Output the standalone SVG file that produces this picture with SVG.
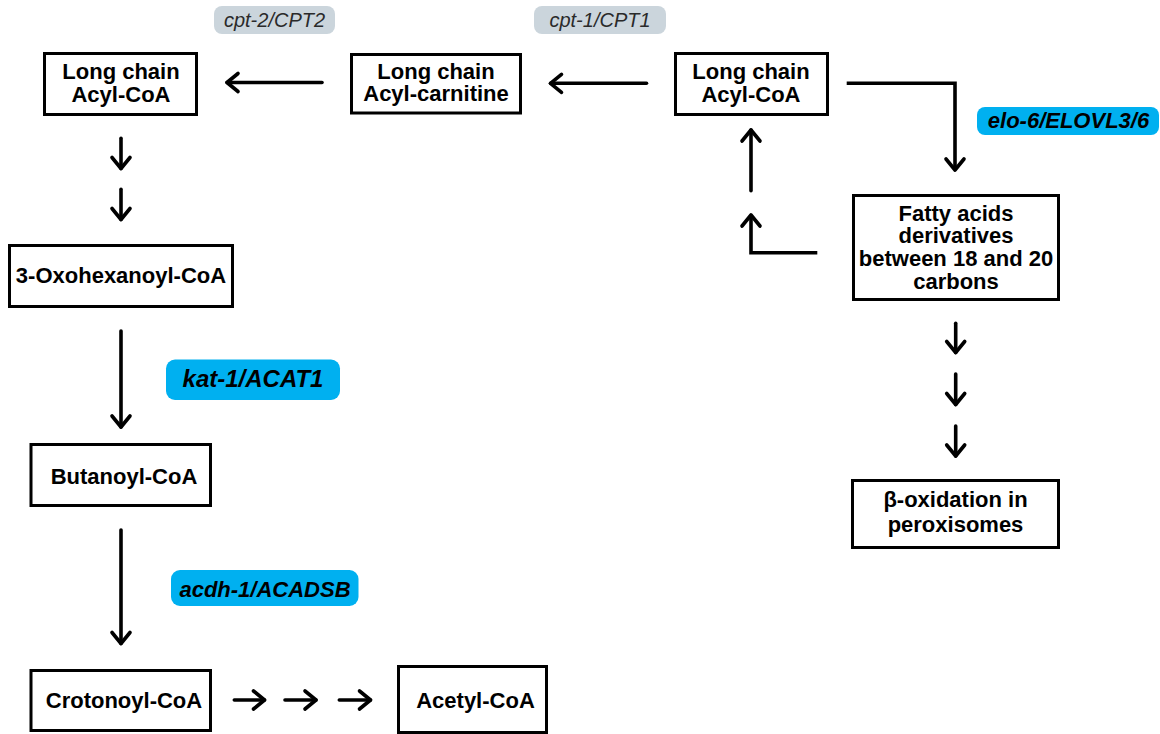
<svg xmlns="http://www.w3.org/2000/svg" width="1160" height="734" viewBox="0 0 1160 734">
  <defs>
    <style>
      .box { fill: #fff; stroke: #000; stroke-width: 3; }
      .t { font-family: "Liberation Sans", Arial, sans-serif; font-size: 22px; font-weight: bold; fill: #000; text-anchor: middle; }
      .pg { fill: #cbd5dc; }
      .pb { fill: #00b0f0; }
      .tg { font-family: "Liberation Sans", Arial, sans-serif; font-size: 20px; font-style: italic; fill: #2a2a2a; text-anchor: middle; }
      .tb { font-family: "Liberation Sans", Arial, sans-serif; font-size: 22px; font-style: italic; font-weight: bold; fill: #000; text-anchor: middle; }
      .c { fill: none; stroke: #000; stroke-width: 3.6; stroke-linecap: round; marker-end: url(#ah); }
    </style>
    <marker id="ah" markerUnits="userSpaceOnUse" markerWidth="30" markerHeight="30" viewBox="0 0 30 30" refX="15" refY="15" orient="auto" overflow="visible">
      <path d="M4,6 L15,15 L4,24" fill="none" stroke="#000" stroke-width="3.6" stroke-linecap="round" stroke-linejoin="round"/>
    </marker>
  </defs>
  <rect width="1160" height="734" fill="#fff"/>

  <g id="labels">
    <g id="lbl-cpt2"><rect class="pg" x="214" y="6" width="121" height="28" rx="8"/><text class="tg" x="274.5" y="26.5">cpt-2/CPT2</text></g>
    <g id="lbl-cpt1"><rect class="pg" x="534" y="6" width="132" height="28" rx="8"/><text class="tg" x="600" y="26.5">cpt-1/CPT1</text></g>
    <g id="lbl-elo6"><rect class="pb" x="977" y="107" width="182" height="28" rx="8"/><text class="tb" x="1068.5" y="128.3">elo-6/ELOVL3/6</text></g>
    <g id="lbl-kat1"><rect class="pb" x="166" y="359.5" width="174" height="40.5" rx="9"/><text class="tb" x="253" y="386.7" style="font-size:24px">kat-1/ACAT1</text></g>
    <g id="lbl-acdh1"><rect class="pb" x="171" y="570" width="187.5" height="36" rx="9"/><text class="tb" x="265" y="597.3">acdh-1/ACADSB</text></g>
  </g>

  <g id="connectors">
    <path class="c" d="M322,82.5 L227,82.5"/>
    <path class="c" d="M646.5,83.3 L550.5,83.3"/>
    <path class="c" d="M846.7,83.3 H955 V170" style="stroke-linecap:butt"/>
    <path class="c" d="M751,190.7 V130"/>
    <path class="c" d="M817.3,252.7 H751 V215" style="stroke-linecap:butt"/>
    <path class="c" d="M121,138.3 V168.5"/>
    <path class="c" d="M121,189.3 V219.5"/>
    <path class="c" d="M121,331 V427"/>
    <path class="c" d="M121,530 V643.5"/>
    <path class="c" d="M234.3,700 H264.5"/>
    <path class="c" d="M285,700 H316"/>
    <path class="c" d="M339.3,700 H370.5"/>
    <path class="c" d="M955.7,323.3 V352.5"/>
    <path class="c" d="M955.7,374 V404.5"/>
    <path class="c" d="M955.7,426 V456"/>
  </g>

  <g id="n1"><rect class="box" x="44.5" y="53.5" width="152" height="61"/><text class="t" x="121" y="79">Long chain</text><text class="t" x="121" y="101.5">Acyl-CoA</text></g>
  <g id="n2"><rect class="box" x="351.5" y="54.5" width="169" height="58.5"/><text class="t" x="436" y="79">Long chain</text><text class="t" x="436" y="101">Acyl-carnitine</text></g>
  <g id="n3"><rect class="box" x="675.5" y="53.5" width="152" height="61"/><text class="t" x="751" y="79">Long chain</text><text class="t" x="751" y="101.5">Acyl-CoA</text></g>
  <g id="n4"><rect class="box" x="853.5" y="195.5" width="205" height="104"/>
    <text class="t" x="956" y="220.5">Fatty acids</text>
    <text class="t" x="956" y="243.3">derivatives</text>
    <text class="t" x="956" y="266.3">between 18 and 20</text>
    <text class="t" x="956" y="289">carbons</text></g>
  <g id="n5"><rect class="box" x="852.5" y="480.5" width="206" height="67"/><text class="t" x="955.5" y="507">β-oxidation in</text><text class="t" x="955.5" y="532">peroxisomes</text></g>
  <g id="n6"><rect class="box" x="9.5" y="245.5" width="223" height="61"/><text class="t" x="121" y="283">3-Oxohexanoyl-CoA</text></g>
  <g id="n7"><rect class="box" x="31" y="444.5" width="179.5" height="61"/><text class="t" x="124" y="483.5">Butanoyl-CoA</text></g>
  <g id="n8"><rect class="box" x="31" y="670.5" width="179.5" height="60"/><text class="t" x="124" y="708">Crotonoyl-CoA</text></g>
  <g id="n9"><rect class="box" x="398.5" y="666.5" width="148" height="66"/><text class="t" x="475.5" y="708">Acetyl-CoA</text></g>
</svg>
